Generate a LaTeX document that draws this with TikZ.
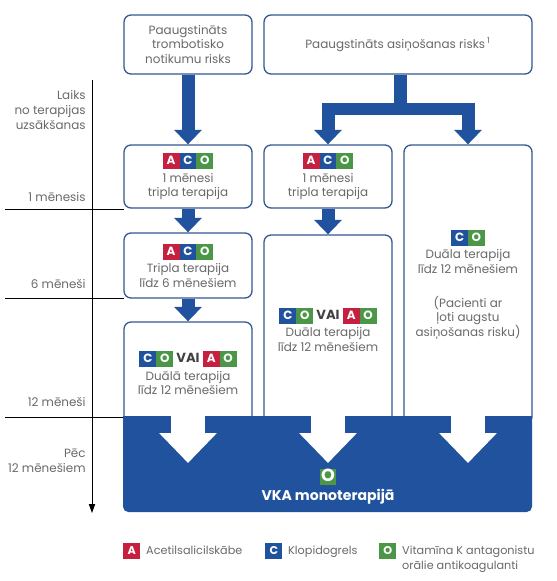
\documentclass[tikz,border=0pt]{standalone}
\usepackage{fontspec}
\setmainfont{Poppins}
\usetikzlibrary{arrows.meta,positioning}

\definecolor{vkablue}{RGB}{32,82,158}
\definecolor{boxline}{RGB}{52,88,145}
\definecolor{acored}{RGB}{197,32,64}
\definecolor{acogreen}{RGB}{76,150,72}
\definecolor{txtgray}{RGB}{105,105,105}

\newcommand{\boxfont}{\fontsize{6.8}{8.3}\selectfont}
\newcommand{\pill}[2]{{\setlength{\fboxsep}{0pt}\colorbox{#1}{\makebox[9.6pt]{\rule[-2.4pt]{0pt}{9pt}\textcolor{white}{\bfseries #2}}}}}
\newcommand{\dA}{\pill{acored}{A}}
\newcommand{\dC}{\pill{vkablue}{C}}
\newcommand{\dO}{\pill{acogreen}{O}}
\newcommand{\vai}{\ {\bfseries\color{darkgray}\fontsize{7.5}{8}\selectfont VAI}\ }

\begin{document}
\begin{tikzpicture}[x=0.02cm, y=-0.02cm,
  riskbox/.style={draw=boxline, line width=0.75pt, rounded corners=4pt, fill=white,
    minimum width=2.56cm, align=center, text=txtgray, font=\boxfont, inner sep=1pt},
  bigarrow/.style={draw=vkablue, line width=0.26cm, -{Triangle[width=0.54cm,length=0.29cm]}},
  bigline/.style={draw=vkablue, line width=0.26cm},
  whitearrow/.style={draw=white, line width=0.68cm, -{Triangle[width=1.12cm,length=0.6cm]}},
  timelabel/.style={anchor=east, align=right, text=txtgray, font=\boxfont, inner sep=0pt},
  legend/.style={anchor=north west, text=txtgray, font=\fontsize{6.4}{8.5}\selectfont, inner sep=0pt}]
  \useasboundingbox (0,0) rectangle (557,581);

  % time axis
  \draw[line width=0.5pt, -{Triangle[width=3.5pt,length=5pt]}] (92,80) -- (92,513);
  \draw[line width=0.5pt] (5,209) -- (124,209);
  \draw[line width=0.5pt] (5,298) -- (124,298);
  \draw[line width=0.5pt] (5,417) -- (124,417);

  \node[timelabel] (tstart) at (86,110) {Laiks\\no terapijas\\uzsākšanas};
  \node[timelabel] (t1) at (86,197) {1 mēnesis};
  \node[timelabel] (t6) at (86,284) {6 mēneši};
  \node[timelabel] (t12) at (86,402) {12 mēneši};
  \node[timelabel] (tpost) at (86,461) {Pēc\\12 mēnešiem};

  % risk boxes
  \node[riskbox, minimum height=1.18cm] (b1) at (188,44.5) {Paaugstināts\\trombotisko\\notikumu risks};
  \node[riskbox, minimum height=1.18cm, minimum width=5.36cm] (b2) at (398,44.5)
    {Paaugstināts asiņošanas risks\,\textsuperscript{1}};

  % therapy boxes
  \node[riskbox, minimum height=1.26cm] (b3) at (188,176.5) {\dA\dC\dO\\[1.5pt]1 mēnesi\\tripla terapija};
  \node[riskbox, minimum height=1.26cm] (b4) at (328,176.5) {\dA\dC\dO\\[1.5pt]1 mēnesi\\tripla terapija};
  \node[riskbox, minimum height=5.58cm] (b5) at (468,284.5)
    {\dC\dO\\[1.5pt]Duāla terapija\\līdz 12 mēnešiem\\[11pt](Pacienti ar\\ļoti augstu\\asiņošanas risku)};
  \node[riskbox, minimum height=1.3cm] (b6) at (188,265.5) {\dA\dC\dO\\[1.5pt]Tripla terapija\\līdz 6 mēnešiem};
  \node[riskbox, minimum height=2.04cm] (b7) at (188,373) {\dC\dO\vai\dA\dO\\[1.5pt]Duālā terapija\\līdz 12 mēnešiem};
  \node[riskbox, minimum height=3.78cm] (b8) at (328,329.5) {\dC\dO\vai\dA\dO\\[1.5pt]Duāla terapija\\līdz 12 mēnešiem};

  % arrows
  \draw[bigarrow] (b1.south) -- (b3.north);
  \draw[bigarrow] (b3.south) -- (b6.north);
  \draw[bigarrow] (b6.south) -- (b7.north);
  \draw[bigarrow] (b4.south) -- (b8.north);
  \coordinate (fork) at (400,109);
  \draw[bigline] (fork |- b2.south) -- (fork);
  \draw[bigarrow] (fork) -| (b4.north);
  \draw[bigarrow] (fork) -| (b5.north);

  % VKA area
  \fill[vkablue, rounded corners=3pt] (123,416) rectangle (532,512);
  \fill[vkablue] (123,416) rectangle (532,440);
  \coordinate (s1) at (188,410);
  \coordinate (s2) at (328,410);
  \coordinate (s3) at (468,410);
  \coordinate (e1) at (188,463);
  \coordinate (e2) at (328,463);
  \coordinate (e3) at (468,463);
  \draw[whitearrow] (s1) -- (e1);
  \draw[whitearrow] (s2) -- (e2);
  \draw[whitearrow] (s3) -- (e3);
  \node[inner sep=0pt] (vkao) at (328,477) {\dO};
  \node[text=white, font=\bfseries\fontsize{8}{9}\selectfont] (vka) at (328,497) {VKA monoterapijā};

  % legend
  \node[legend] (la) at (123,543) {\dA\ \ Acetilsalicilskābe};
  \node[legend] (lc) at (265,543) {\dC\ \ Klopidogrels};
  \node[legend] (lo) at (379,543) {\begin{tabular}{@{}l@{\ \ }l@{}}\dO & Vitamīna K antagonistu\\ & orālie antikoagulanti\end{tabular}};
\end{tikzpicture}
\end{document}
